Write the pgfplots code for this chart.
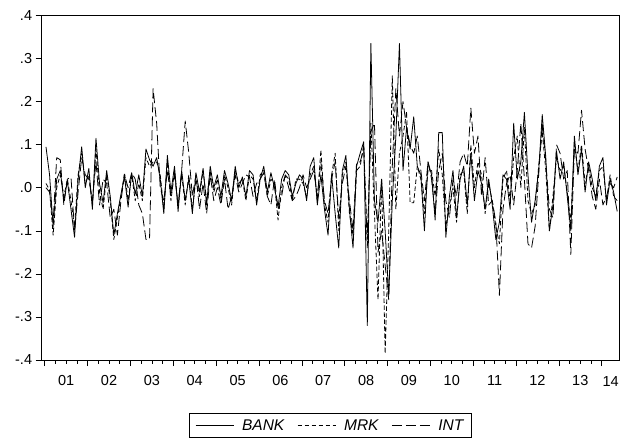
\documentclass[border=0pt]{standalone}
\usepackage{fontspec}
\setmainfont{Liberation Sans}
\usepackage{pgfplots}
\usepackage{pgfplotstable}
\pgfplotsset{compat=1.18}

% monthly returns, Jan 2001 (i=0) to May 2014 (i=160)
\pgfplotstableread{
i bank mrk int
0 0.095 0.01 0.00
1 0.03 -0.005 -0.01
2 -0.09 -0.11 -0.08
3 0.02 0.00 0.07
4 0.04 0.03 0.065
5 -0.03 -0.02 -0.04
6 0.015 0.02 0.02
7 -0.05 -0.03 0.025
8 -0.115 -0.09 -0.10
9 0.02 0.03 -0.01
10 0.095 0.08 0.07
11 0.00 0.01 0.03
12 0.045 0.03 0.02
13 -0.05 -0.04 -0.03
14 0.115 0.09 0.06
15 0.01 -0.01 -0.04
16 -0.035 -0.05 0.02
17 0.04 0.03 0.01
18 -0.02 -0.03 -0.07
19 -0.11 -0.12 -0.05
20 -0.06 -0.07 -0.11
21 -0.015 -0.02 -0.03
22 0.025 0.035 0.03
23 -0.045 -0.03 0.00
24 0.035 0.03 0.035
25 -0.015 -0.03 0.02
26 0.03 0.01 -0.04
27 -0.02 -0.03 -0.06
28 0.09 0.07 -0.12
29 0.065 0.05 -0.12
30 0.05 0.06 0.23
31 0.07 0.06 0.15
32 0.02 0.03 0.00
33 -0.06 -0.05 -0.03
34 0.075 0.06 0.04
35 -0.01 -0.03 -0.02
36 0.05 0.04 0.03
37 -0.055 -0.04 -0.04
38 0.04 0.03 0.04
39 -0.03 -0.04 0.155
40 0.02 0.03 0.08
41 -0.06 -0.05 -0.02
42 0.035 0.02 0.03
43 -0.01 -0.02 -0.05
44 0.045 0.04 0.01
45 -0.04 -0.03 -0.06
46 0.05 0.04 0.03
47 0.00 -0.01 -0.03
48 0.03 0.02 0.00
49 -0.02 -0.03 -0.04
50 0.04 0.03 0.02
51 0.01 0.00 -0.05
52 -0.03 -0.04 -0.02
53 0.05 0.04 0.03
54 0.00 0.01 -0.01
55 0.025 0.02 0.01
56 -0.02 -0.03 0.03
57 0.04 0.03 0.025
58 0.03 0.02 -0.02
59 -0.04 -0.03 0.01
60 0.02 0.03 0.02
61 0.05 0.04 0.035
62 -0.01 -0.02 -0.02
63 0.035 0.02 -0.04
64 0.00 0.01 0.02
65 -0.045 -0.075 -0.05
66 0.02 0.00 -0.02
67 0.04 0.03 0.03
68 0.03 0.02 0.00
69 -0.02 -0.03 -0.03
70 0.01 0.02 -0.02
71 0.03 0.02 0.00
72 0.02 0.01 0.03
73 -0.03 -0.02 0.00
74 0.05 0.03 0.02
75 0.07 0.05 0.04
76 -0.04 -0.03 -0.02
77 0.03 0.088 0.06
78 -0.05 -0.04 -0.03
79 -0.11 -0.08 -0.06
80 0.03 0.03 0.02
81 -0.06 0.08 0.06
82 -0.14 -0.10 -0.07
83 0.04 0.03 0.01
84 0.075 0.06 0.05
85 -0.05 -0.06 -0.03
86 -0.14 -0.11 -0.10
87 0.05 0.04 0.06
88 0.08 0.05 0.06
89 0.107 0.10 0.09
90 -0.32 -0.14 -0.12
91 0.335 0.15 0.13
92 -0.03 -0.06 0.15
93 -0.08 -0.26 -0.15
94 0.02 0.02 -0.10
95 -0.10 -0.385 -0.18
96 -0.25 -0.10 -0.26
97 -0.03 0.26 0.05
98 0.12 -0.05 0.23
99 0.335 0.08 0.12
100 0.04 0.12 0.20
101 0.14 0.177 0.14
102 0.09 -0.035 0.10
103 0.165 -0.035 0.08
104 0.05 0.05 0.12
105 0.03 0.02 0.04
106 -0.10 -0.06 -0.03
107 0.06 0.04 0.06
108 0.03 0.04 0.02
109 -0.075 -0.02 -0.06
110 0.128 0.09 0.04
111 0.128 0.03 0.08
112 -0.115 -0.09 -0.03
113 -0.02 -0.04 -0.07
114 0.04 0.00 0.02
115 -0.07 -0.08 -0.02
116 0.02 0.03 0.06
117 0.05 0.04 0.08
118 -0.04 -0.06 0.05
119 0.08 0.10 0.185
120 -0.03 0.00 0.08
121 0.04 0.06 0.12
122 0.01 0.03 -0.02
123 -0.05 -0.06 0.07
124 0.02 0.01 -0.04
125 -0.04 -0.03 -0.03
126 -0.12 -0.09 -0.08
127 -0.08 -0.13 -0.25
128 0.03 0.02 -0.05
129 0.02 0.04 0.01
130 -0.05 -0.03 0.03
131 0.15 0.07 -0.04
132 0.02 0.12 0.04
133 0.06 0.00 0.15
134 0.175 0.14 0.02
135 0.03 -0.03 -0.13
136 -0.08 -0.06 -0.14
137 -0.03 -0.04 -0.09
138 0.04 0.05 0.03
139 0.17 0.13 0.15
140 0.07 0.04 0.06
141 -0.10 -0.10 -0.05
142 -0.04 -0.02 -0.07
143 0.085 0.07 0.10
144 0.02 0.04 0.08
145 0.06 0.05 0.02
146 -0.02 -0.01 0.04
147 -0.10 -0.08 -0.155
148 0.12 0.10 0.09
149 0.03 0.04 0.08
150 0.09 0.10 0.18
151 -0.01 0.01 0.09
152 0.06 0.05 0.04
153 0.02 0.00 -0.02
154 -0.03 -0.02 -0.05
155 0.05 0.04 0.02
156 0.07 0.05 -0.04
157 -0.04 -0.03 -0.02
158 0.02 0.03 0.01
159 -0.01 -0.02 0.00
160 -0.055 -0.03 0.025
}\returns

\begin{document}
\begin{tikzpicture}
\useasboundingbox (-41.6pt,-80pt) rectangle (579.4pt,360pt);
\begin{axis}[
    at={(0pt,0pt)}, anchor=south west,
    scale only axis,
    width=577.4pt, height=344.5pt,
    xmin=-1.23, xmax=160.5,
    ymin=-0.4, ymax=0.4,
    axis line style={line width=0.8pt},
    tick style={black, line width=0.6pt},
    tick align=outside,
    xtick pos=bottom, ytick pos=left,
    xtick={-0.34,11.66,23.66,35.66,47.66,59.66,71.66,83.66,95.66,107.66,119.66,131.66,143.66,155.66},
    xticklabels={},
    minor x tick num=3,
    major tick length=6pt,
    minor tick length=3.5pt,
    extra x ticks={5.66,17.66,29.66,41.66,53.66,65.66,77.66,89.66,101.66,113.66,125.66,137.66,149.66},
    extra x tick labels={01,02,03,04,05,06,07,08,09,10,11,12,13},
    extra x tick style={major tick length=0pt, tick label style={yshift=-12pt}},
    ytick={-0.4,-0.3,-0.2,-0.1,0,0.1,0.2,0.3,0.4},
    yticklabels={-.4,-.3,-.2,-.1,.0,.1,.2,.3,.4},
    tick label style={font=\fontsize{14.5}{16}\selectfont},
    clip=false,
    legend style={at={(0.5,-0.19)}, anchor=center, legend columns=3,
        draw=black, line width=0.6pt, inner xsep=6pt, inner ysep=4pt,
        font=\itshape\fontsize{15.5}{17}\selectfont,
        /tikz/every odd column/.append style={column sep=6pt},
        /tikz/every even column/.append style={column sep=11pt}},
    legend cell align=left,
    legend image code/.code={\draw[#1] (0pt,0pt) -- (38pt,0pt);},
]
\addplot[black, no marks, line width=0.8pt, line join=round] table[x=i, y=bank] {\returns};
\addplot[black, no marks, line width=0.8pt, line join=round, dash pattern=on 4.5pt off 2.5pt] table[x=i, y=mrk] {\returns};
\addplot[black, no marks, line width=0.8pt, line join=round, dash pattern=on 10pt off 4pt] table[x=i, y=int] {\returns};
\legend{BANK,MRK,INT}
\node[font=\fontsize{14.5}{16}\selectfont, anchor=north east, yshift=-15pt, xshift=1pt, inner sep=1pt] at (axis cs:160.5,-0.4) {14};
\end{axis}
\end{tikzpicture}
\end{document}
